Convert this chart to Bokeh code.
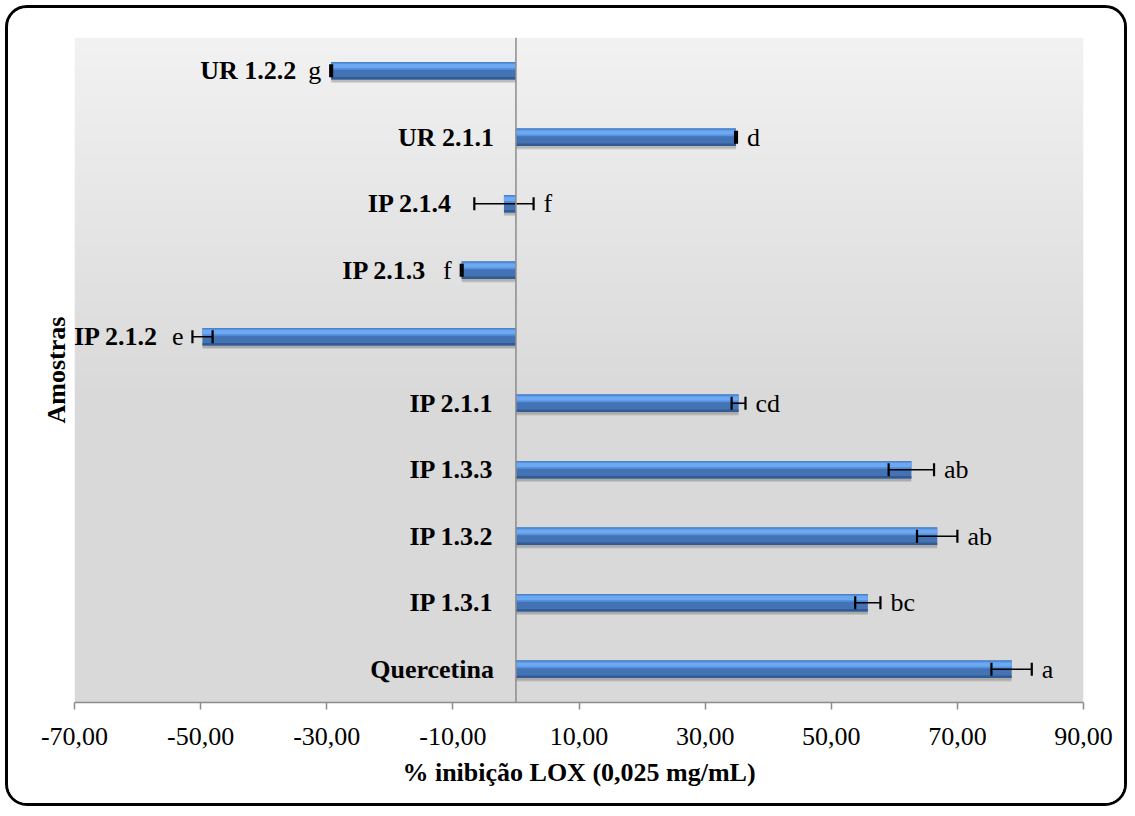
import numpy as np
from bokeh.plotting import figure
from bokeh.models import (ColumnDataSource, FactorRange, Range1d, Span,
                          FixedTicker, Title)
from bokeh.transform import dodge
from bokeh.core.properties import value
from bokeh.embed import file_html
from bokeh.resources import INLINE

# LOX inhibition (%) at 0.025 mg/mL, listed top to bottom
samples = ["UR 1.2.2", "UR 2.1.1", "IP 2.1.4", "IP 2.1.3", "IP 2.1.2",
           "IP 2.1.1", "IP 1.3.3", "IP 1.3.2", "IP 1.3.1", "Quercetina"]
inhibition = [-29.3, 34.9, -1.9, -8.6, -49.7, 35.3, 62.7, 66.8, 55.8, 78.6]
std_dev = [0.15, 0.15, 4.7, 0.15, 1.6, 1.1, 3.6, 3.2, 2.0, 3.2]
groups = ["g", "d", "f", "f", "e", "cd", "ab", "ab", "bc", "a"]

tick_values = [-70, -50, -30, -10, 10, 30, 50, 70, 90]
tick_labels = ["-70,00", "-50,00", "-30,00", "-10,00", "10,00",
               "30,00", "50,00", "70,00", "90,00"]

SERIF = "Liberation Serif"
FS = "26px"

lo = [v - e for v, e in zip(inhibition, std_dev)]
hi = [v + e for v, e in zip(inhibition, std_dev)]

src = ColumnDataSource(dict(cat=samples, val=inhibition, zero=[0] * len(samples),
                            lo=lo, hi=hi))

p = figure(width=1122, height=801,
           x_range=Range1d(-70, 90),
           y_range=FactorRange(factors=samples[::-1], range_padding=0),
           output_backend="svg", toolbar_location=None,
           min_border_left=66, min_border_right=47,
           min_border_top=29, min_border_bottom=107)
p.styles = {"margin": "5px 0 0 5px", "border": "3px solid #000000",
            "border-radius": "22px", "overflow": "hidden"}
p.border_fill_color = "white"
p.outline_line_color = None
p.grid.visible = False

# vertical gradient behind the plot area
n = 300
t = np.linspace(1, 0, n)                       # row 0 is the bottom
k = np.clip(t / 0.55, 0, 1)
top, bot = np.array([242, 242, 242]), np.array([217, 217, 217])
rgb = (bot[None, :] * k[:, None] + top[None, :] * (1 - k[:, None])).astype(np.uint8)
img = np.empty((n, 1), dtype=np.uint32)
view = img.view(dtype=np.uint8).reshape((n, 1, 4))
view[:, 0, :3] = rgb
view[:, 0, 3] = 255
p.image_rgba(image=[img], x=-70, y=0, dw=160, dh=len(samples))

# bars: soft shadow, body and bevel bands
H = 0.265
p.hbar(y=dodge("cat", -0.05, range=p.y_range), left="zero", right="val", height=H,
       source=src, fill_color="black", fill_alpha=0.10, line_color=None)
p.hbar(y=dodge("cat", -0.035, range=p.y_range), left="zero", right="val", height=H,
       source=src, fill_color="black", fill_alpha=0.12, line_color=None)
p.hbar(y="cat", left="zero", right="val", height=H, source=src,
       fill_color="#4373B4", line_color=None)
p.hbar(y=dodge("cat", 0.275 * H, range=p.y_range), left="zero", right="val",
       height=0.45 * H, source=src, fill_color="#5692DD", line_color=None)
p.hbar(y=dodge("cat", 0.27 * H, range=p.y_range), left="zero", right="val",
       height=0.24 * H, source=src, fill_color="#6CA9F2", line_color=None)
p.hbar(y=dodge("cat", 0.47 * H, range=p.y_range), left="zero", right="val",
       height=0.06 * H, source=src, fill_color="#4C82C7", line_color=None)
p.hbar(y=dodge("cat", -0.43 * H, range=p.y_range), left="zero", right="val",
       height=0.14 * H, source=src, fill_color="#335B93", line_color=None)

# zero line
p.add_layout(Span(location=0, dimension="height", line_color="#8C8C8C",
                  line_width=1.5))

# error bars with end caps
p.segment(x0="lo", y0="cat", x1="hi", y1="cat", source=src,
          line_color="black", line_width=1.6)
for end in ("lo", "hi"):
    p.scatter(x=end, y="cat", source=src, marker="dash", angle=np.pi / 2,
              size=13, line_color="black", line_width=2.2)

# significance letters and sample names
r_let, l_let, names = ({"x": [], "y": [], "t": [], "o": []} for _ in range(3))
for s, v, e, g in zip(samples, inhibition, std_dev, groups):
    if v + e > 0:
        r_let["x"].append(v + e); r_let["y"].append(s); r_let["t"].append(g); r_let["o"].append(10)
        names["x"].append(min(0, v - e)); names["o"].append(-22)
    else:
        l_let["x"].append(v - e); l_let["y"].append(s); l_let["t"].append(g); l_let["o"].append(-9)
        names["x"].append(v - e); names["o"].append(-34)
    names["y"].append(s); names["t"].append(s)

p.text(x="x", y="y", text="t", x_offset="o", source=ColumnDataSource(r_let),
       text_font=value(SERIF), text_font_size=FS, text_align="left",
       text_baseline="middle", text_color="black")
p.text(x="x", y="y", text="t", x_offset="o", source=ColumnDataSource(l_let),
       text_font=value(SERIF), text_font_size=FS, text_align="right",
       text_baseline="middle", text_color="black")
p.text(x="x", y="y", text="t", x_offset="o", source=ColumnDataSource(names),
       text_font=value(SERIF), text_font_size=FS, text_font_style="bold",
       text_align="right", text_baseline="middle", text_color="black")

# x axis
xa = p.xaxis[0]
xa.ticker = FixedTicker(ticks=tick_values)
xa.major_label_overrides = {t: l for t, l in zip(tick_values, tick_labels)}
xa.axis_line_color = "#8C8C8C"
xa.axis_line_width = 1.5
xa.major_tick_line_color = "#8C8C8C"
xa.major_tick_line_width = 1.5
xa.major_tick_in = 0
xa.major_tick_out = 7
xa.minor_tick_line_color = None
xa.major_label_standoff = 18
xa.major_label_text_font = SERIF
xa.major_label_text_font_size = FS
xa.major_label_text_color = "black"
xa.axis_label = "% inibição LOX (0,025 mg/mL)"
xa.axis_label_text_font = SERIF
xa.axis_label_text_font_size = FS
xa.axis_label_text_font_style = "bold"
xa.axis_label_text_color = "black"
xa.axis_label_standoff = 10

# vertical axis: title only
p.yaxis.visible = False
p.add_layout(Title(text="Amostras", align="center", text_font=SERIF,
                   text_font_size=FS, text_font_style="bold",
                   text_color="black", standoff=7), "left")

open("out.html", "w").write(file_html(p, INLINE))
